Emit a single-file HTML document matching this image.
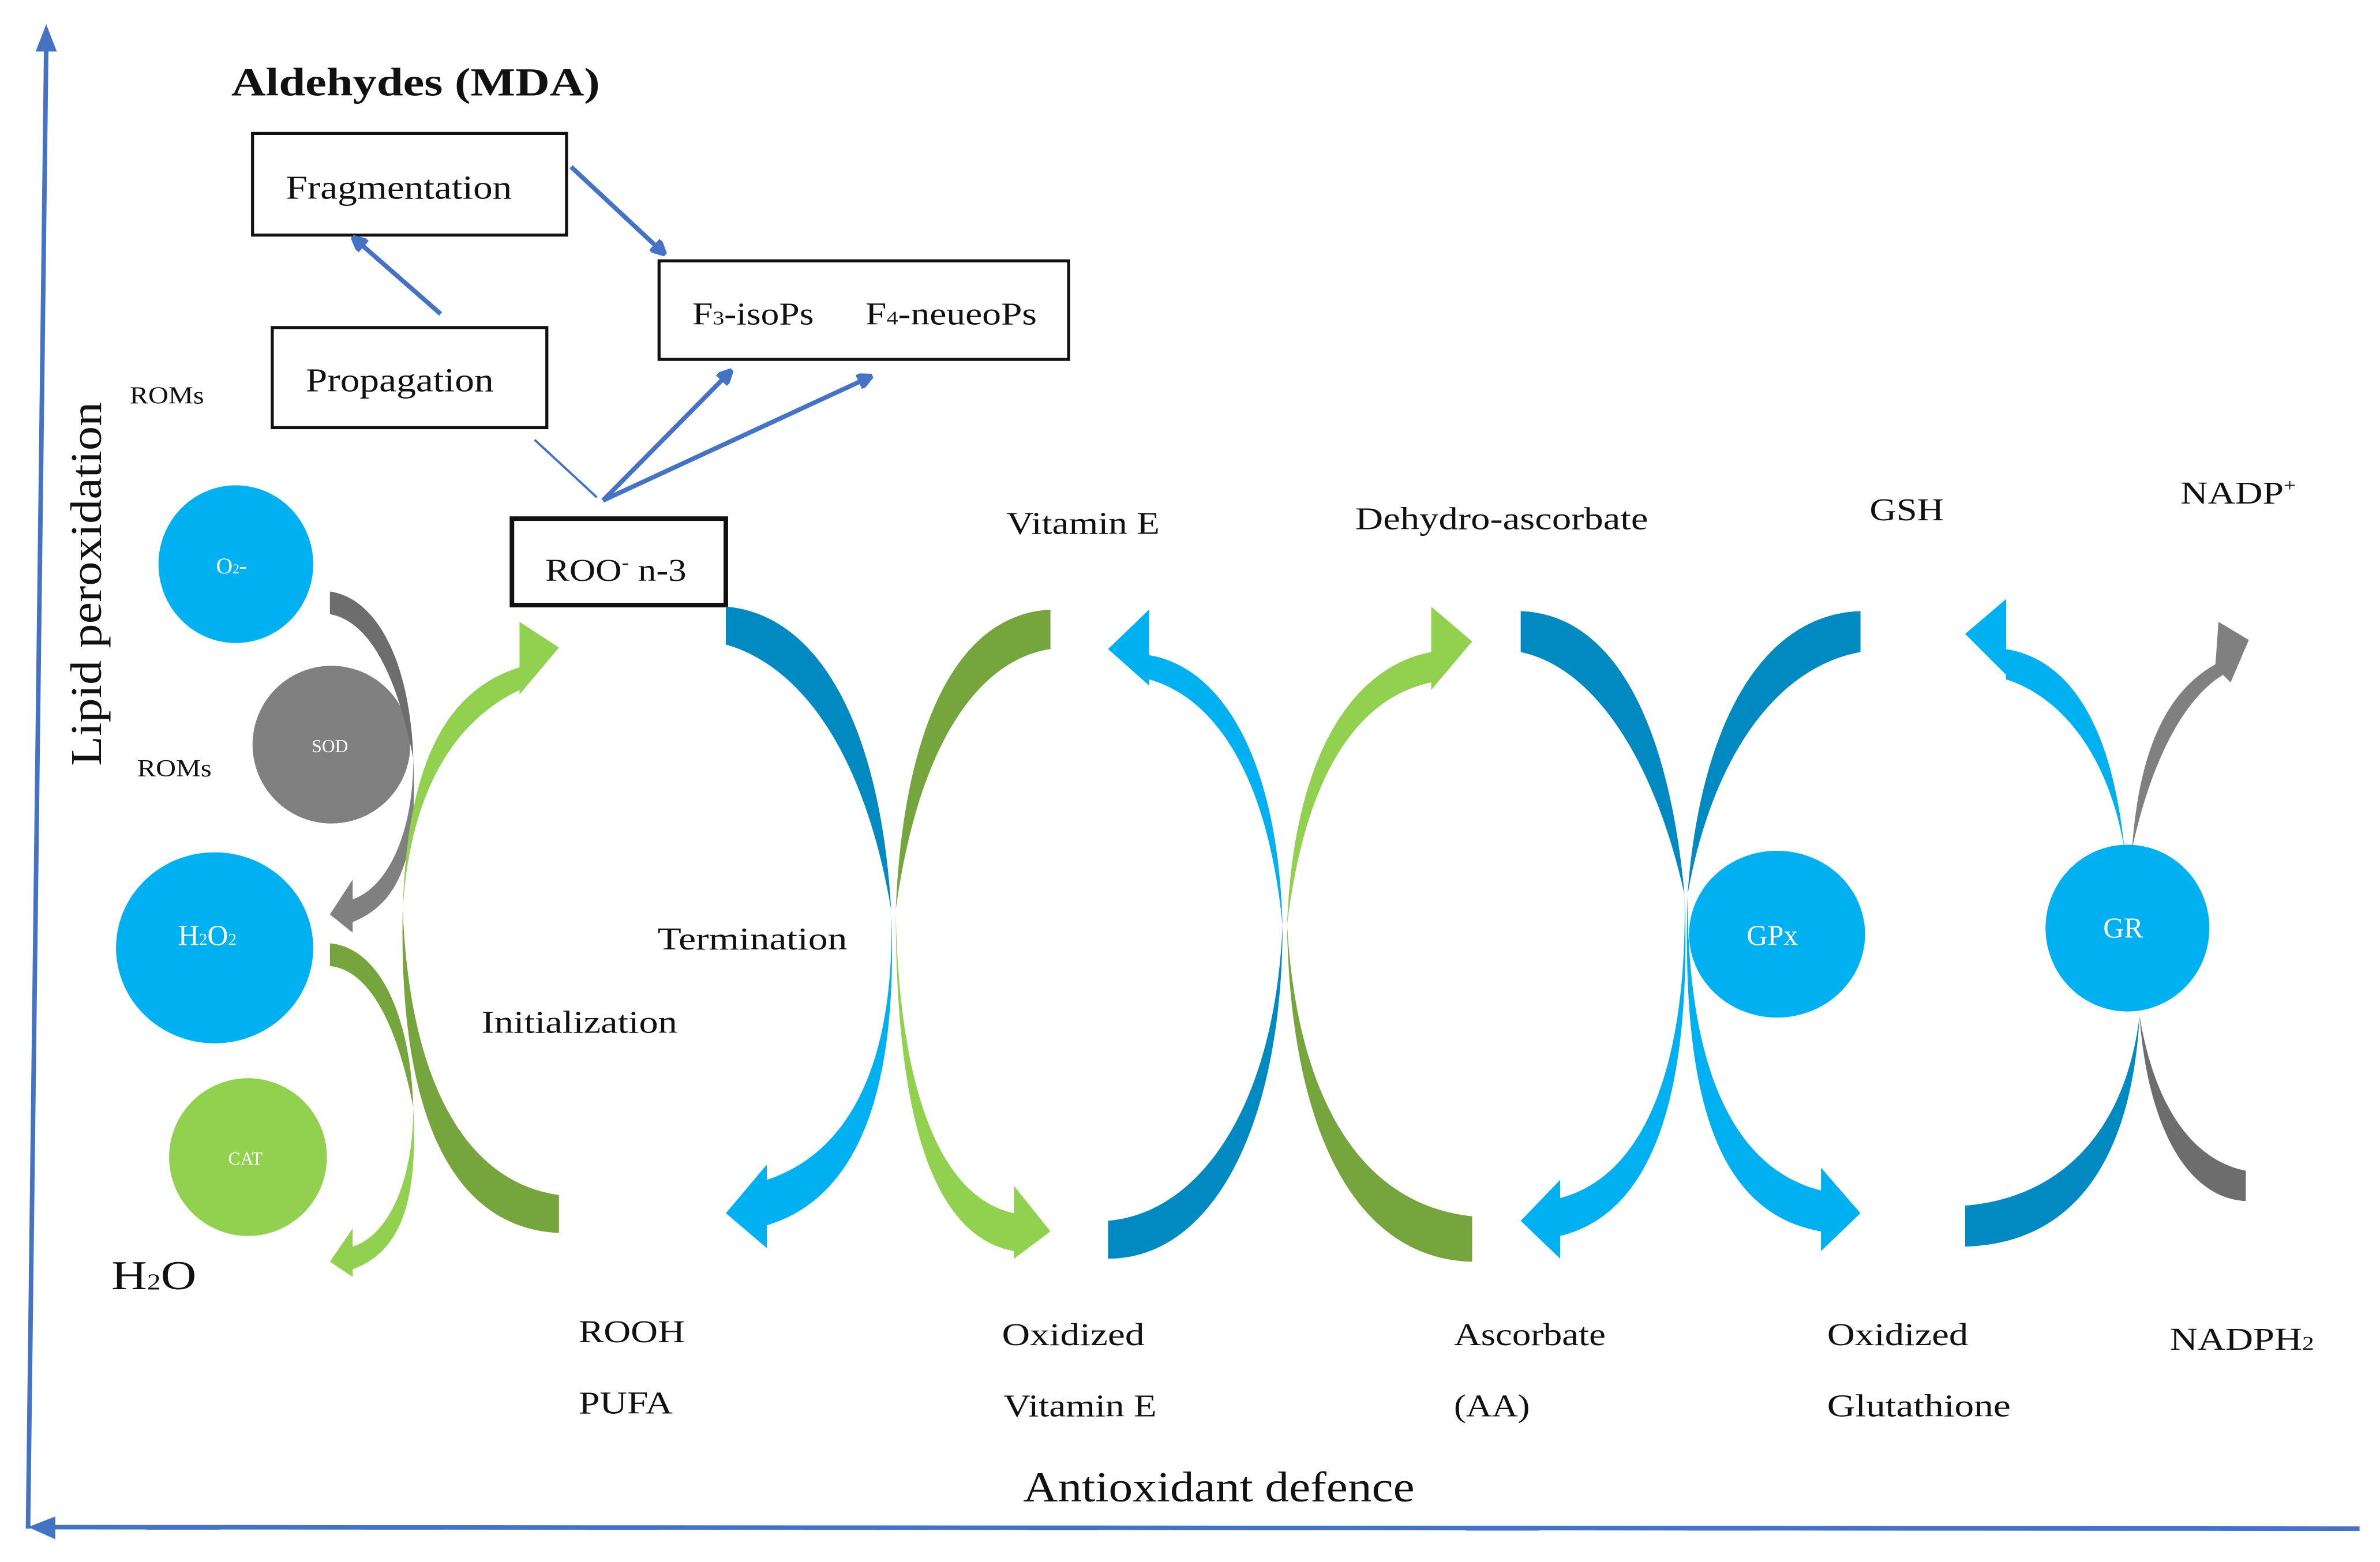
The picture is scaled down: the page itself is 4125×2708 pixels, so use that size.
<!DOCTYPE html>
<html><head><meta charset="utf-8"><style>
html,body{margin:0;padding:0;background:#fff}
svg{display:block}
text{font-family:"Liberation Serif",serif;fill:#111}
</style></head><body>
<svg width="4125" height="2708" viewBox="0 0 1568 1030" xmlns="http://www.w3.org/2000/svg">
<defs>
<marker id="ah" markerWidth="10" markerHeight="10" refX="7" refY="5" orient="auto" markerUnits="userSpaceOnUse">
<path d="M0,0 L10,5 L0,10 Z" fill="#4472c4" transform="scale(1.6) translate(-2,-1.9)"/>
</marker>
</defs>
<line x1="18" y1="1008" x2="30" y2="30" stroke="#4472c4" stroke-width="3"/>
<path d="M23,34 L30,16 L37,34 Z" fill="#4472c4"/>
<line x1="1555" y1="1008" x2="32" y2="1007" stroke="#4472c4" stroke-width="3"/>
<path d="M36,1000 L18,1007 L36,1015 Z" fill="#4472c4"/>
<text transform="translate(66,505) rotate(-90)" font-size="29" textLength="240" lengthAdjust="spacingAndGlyphs">Lipid peroxidation</text>
<text x="152" y="63" font-size="26" font-weight="bold" textLength="243" lengthAdjust="spacingAndGlyphs">Aldehydes (MDA)</text>
<rect x="166" y="88" width="207" height="67" fill="none" stroke="#111" stroke-width="2"/>
<text x="188" y="131" font-size="22" textLength="149" lengthAdjust="spacingAndGlyphs">Fragmentation</text>
<rect x="179" y="216" width="181" height="66" fill="none" stroke="#111" stroke-width="2"/>
<text x="201" y="258" font-size="22" textLength="124" lengthAdjust="spacingAndGlyphs">Propagation</text>
<rect x="434" y="172" width="270" height="65" fill="none" stroke="#111" stroke-width="2"/>
<text x="456" y="214" font-size="21" textLength="80" lengthAdjust="spacingAndGlyphs">F<tspan font-size="13">3</tspan>-isoPs</text>
<text x="570" y="214" font-size="21" textLength="113" lengthAdjust="spacingAndGlyphs">F<tspan font-size="13">4</tspan>-neueoPs</text>
<rect x="337" y="342" width="141" height="57" fill="none" stroke="#111" stroke-width="3"/>
<text x="359" y="383" font-size="21" textLength="93" lengthAdjust="spacingAndGlyphs">ROO<tspan font-size="13" dy="-8">-</tspan><tspan dy="8"> n-3</tspan></text>
<g stroke="#4472c4" stroke-width="3" fill="none">
<line x1="376" y1="110" x2="436" y2="166" marker-end="url(#ah)"/>
<line x1="290" y1="207" x2="234" y2="158" marker-end="url(#ah)"/>
<line x1="397" y1="330" x2="480" y2="246" marker-end="url(#ah)"/>
<line x1="397" y1="330" x2="572" y2="249" marker-end="url(#ah)"/>
<line x1="352" y1="290" x2="393" y2="328" stroke-width="1.5"/>
</g>
<text x="85" y="266" font-size="16" textLength="49" lengthAdjust="spacingAndGlyphs">ROMs</text>
<text x="90" y="512" font-size="16" textLength="49" lengthAdjust="spacingAndGlyphs">ROMs</text>
<ellipse cx="155" cy="372" rx="51" ry="52" fill="#00b0f0"/>
<text x="142" y="378" font-size="15" style="fill:#fff">O<tspan font-size="9">2</tspan>-</text>
<ellipse cx="218" cy="491" rx="52" ry="52" fill="#808080"/>
<text x="205" y="496" font-size="12" style="fill:#fff">SOD</text>
<ellipse cx="141" cy="625" rx="65" ry="63" fill="#00b0f0"/>
<text x="117" y="623" font-size="19" style="fill:#fff">H<tspan font-size="11">2</tspan>O<tspan font-size="11">2</tspan></text>
<ellipse cx="163" cy="763" rx="52" ry="52" fill="#92d050"/>
<text x="150" y="768" font-size="12" style="fill:#fff">CAT</text>
<ellipse cx="1171" cy="616" rx="58" ry="55" fill="#00b0f0"/>
<text x="1151" y="623" font-size="19" style="fill:#fff">GPx</text>
<ellipse cx="1402" cy="612" rx="54" ry="55" fill="#00b0f0"/>
<text x="1386" y="618" font-size="19" style="fill:#fff">GR</text>
<text x="73" y="850" font-size="27" textLength="56" lengthAdjust="spacingAndGlyphs">H<tspan font-size="15">2</tspan>O</text>
<path d="M217,390 C250,395 270,440 272,500 C262,450 245,410 217,405 Z" fill="#6d6d6d"/>
<path d="M272,500 C272,550 255,585 232,593 L232,580 L217,603 L232,615 L232,608 C265,595 275,560 272,500 Z" fill="#808080"/>
<path d="M217,622 C250,625 270,670 272,730 C262,680 245,640 217,637 Z" fill="#76a53e"/>
<path d="M272,730 C272,780 255,815 232,822 L232,810 L217,832 L232,842 L232,837 C265,825 275,790 272,730 Z" fill="#92d050"/>
<path d="M265,600 C268,500 295,455 342,440 L342,410 L368,427 L342,458 L342,455 C300,475 270,520 265,600 Z" fill="#92d050"/>
<path d="M265,600 C270,720 310,780 368,788 L368,813 C300,810 262,740 265,600 Z" fill="#76a53e"/>
<path d="M478,400 C540,405 580,480 587,600 C570,500 530,440 478,425 Z" fill="#0189c2"/>
<path d="M587,600 C590,700 560,760 505,778 L505,768 L478,800 L505,823 L505,808 C565,790 592,720 587,600 Z" fill="#00b0f0"/>
<path d="M692,402 C630,405 595,480 590,600 C605,490 645,435 692,428 Z" fill="#76a53e"/>
<path d="M590,600 C592,720 620,790 668,800 L668,782 L692,812 L668,830 L668,825 C612,815 590,730 590,600 Z" fill="#92d050"/>
<path d="M845,610 C842,500 805,440 757,432 L757,402 L730,428 L757,452 L757,448 C800,460 835,510 845,610 Z" fill="#00b0f0"/>
<path d="M845,610 C840,730 790,800 730,805 L730,830 C800,830 845,740 845,610 Z" fill="#0189c2"/>
<path d="M848,610 C852,500 890,440 943,430 L943,400 L970,423 L943,455 L943,450 C895,460 860,510 848,610 Z" fill="#92d050"/>
<path d="M848,610 C855,730 900,795 970,802 L970,832 C890,830 850,740 848,610 Z" fill="#76a53e"/>
<path d="M1002,403 C1065,405 1100,480 1110,590 C1090,500 1050,440 1002,430 Z" fill="#0189c2"/>
<path d="M1110,590 C1112,700 1085,775 1028,790 L1028,778 L1002,805 L1028,830 L1028,815 C1090,800 1115,720 1110,590 Z" fill="#00b0f0"/>
<path d="M1226,403 C1160,405 1120,480 1112,590 C1128,500 1170,440 1226,430 Z" fill="#0189c2"/>
<path d="M1112,590 C1112,700 1140,770 1200,785 L1200,770 L1226,800 L1200,825 L1200,812 C1130,800 1108,720 1112,590 Z" fill="#00b0f0"/>
<path d="M1400,560 C1392,480 1365,435 1322,428 L1322,395 L1295,418 L1322,445 L1322,448 C1360,460 1390,500 1400,560 Z" fill="#00b0f0"/>
<path d="M1405,560 C1410,490 1430,455 1460,438 L1462,410 L1482,422 L1470,450 L1465,445 C1440,460 1418,500 1405,560 Z" fill="#808080"/>
<path d="M1410,670 C1400,750 1355,790 1295,795 L1295,822 C1370,820 1405,760 1410,670 Z" fill="#0189c2"/>
<path d="M1410,670 C1420,730 1445,765 1480,772 L1480,792 C1440,790 1415,740 1410,670 Z" fill="#6d6d6d"/>
<g font-size="21">
<text x="663" y="352" textLength="101" lengthAdjust="spacingAndGlyphs">Vitamin E</text>
<text x="893" y="349" textLength="193" lengthAdjust="spacingAndGlyphs">Dehydro-ascorbate</text>
<text x="1232" y="343" textLength="49" lengthAdjust="spacingAndGlyphs">GSH</text>
<text x="1437" y="332" textLength="76" lengthAdjust="spacingAndGlyphs">NADP<tspan font-size="12" dy="-8">+</tspan></text>
<text x="433" y="626" textLength="125" lengthAdjust="spacingAndGlyphs">Termination</text>
<text x="317" y="681" textLength="129" lengthAdjust="spacingAndGlyphs">Initialization</text>
<text x="381" y="885" textLength="70" lengthAdjust="spacingAndGlyphs">ROOH</text>
<text x="381" y="932" textLength="62" lengthAdjust="spacingAndGlyphs">PUFA</text>
<text x="660" y="887" textLength="94" lengthAdjust="spacingAndGlyphs">Oxidized</text>
<text x="661" y="934" textLength="101" lengthAdjust="spacingAndGlyphs">Vitamin E</text>
<text x="958" y="887" textLength="100" lengthAdjust="spacingAndGlyphs">Ascorbate</text>
<text x="958" y="934" textLength="50" lengthAdjust="spacingAndGlyphs">(AA)</text>
<text x="1204" y="887" textLength="93" lengthAdjust="spacingAndGlyphs">Oxidized</text>
<text x="1204" y="934" textLength="121" lengthAdjust="spacingAndGlyphs">Glutathione</text>
<text x="1430" y="890" textLength="95" lengthAdjust="spacingAndGlyphs">NADPH<tspan font-size="13">2</tspan></text>
</g>
<text x="674" y="990" font-size="28" textLength="258" lengthAdjust="spacingAndGlyphs">Antioxidant defence</text>
</svg>
</body></html>
